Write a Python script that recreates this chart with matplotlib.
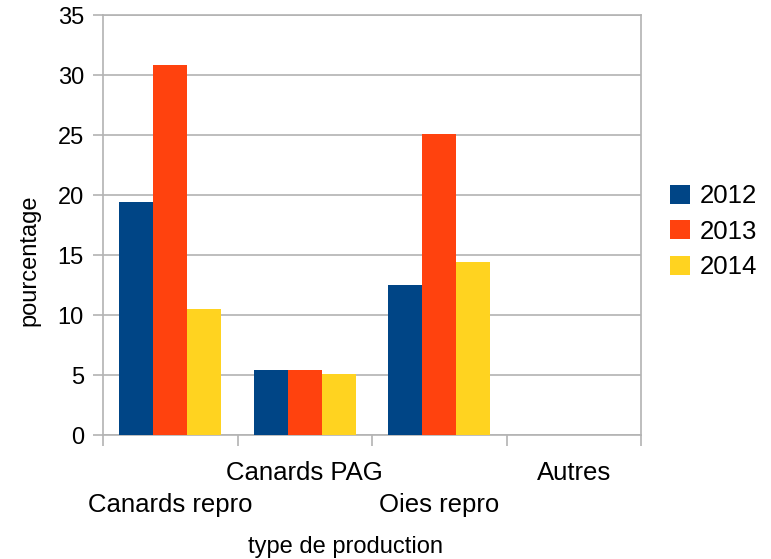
import numpy as np
import matplotlib
matplotlib.use("Agg")
import matplotlib.pyplot as plt

plt.rcParams.update({
    "font.family": ["Liberation Sans", "DejaVu Sans"],
    "figure.facecolor": "white",
    "axes.facecolor": "white",
})

categories = ["Canards repro", "Canards PAG", "Oies repro", "Autres"]
years = ["2012", "2013", "2014"]
v2012 = [19.4, 5.4, 12.5, 0]
v2013 = [30.8, 5.4, 25.1, 0]
v2014 = [10.5, 5.1, 14.4, 0]
colors = ["#004586", "#ff420e", "#ffd320"]
grid_col = "#b3b3b3"

fig = plt.figure(figsize=(7.71, 5.59), dpi=100)
W, H = 771, 559
ax = fig.add_axes([103 / W, (H - 435) / H, (641 - 103) / W, (435 - 15) / H])

x = np.arange(len(categories))
bw = 0.253
for i, (vals, lab) in enumerate(zip([v2012, v2013, v2014], years)):
    ax.bar(x + (i - 1) * bw, vals, bw, color=colors[i], label=lab, zorder=3)

ax.set_xlim(-0.5, len(categories) - 0.5)
ax.set_ylim(0, 35)
ax.set_yticks(np.arange(0, 36, 5))
ax.yaxis.grid(True, color=grid_col, linewidth=1.2, zorder=0)
ax.set_axisbelow(True)

for sp in ax.spines.values():
    sp.set_color(grid_col)
    sp.set_linewidth(1.2)

ax.tick_params(axis="y", length=7.2, width=1.2, color=grid_col, pad=6.5,
               labelsize=17, labelcolor="black")

# category labels, staggered on two rows
ax.set_xticks(x)
ax.set_xticklabels(categories)
ax.tick_params(axis="x", which="major", length=0, pad=19, labelsize=18.5,
               labelcolor="black")
ax.set_xticks(np.arange(-0.5, len(categories)), minor=True)
ax.tick_params(axis="x", which="minor", length=8, width=1.2, color=grid_col)
for i, t in enumerate(ax.xaxis.get_major_ticks()):
    if i % 2 == 0:
        t.set_pad(42)

ax.set_ylabel("pourcentage", fontsize=17)
ax.yaxis.set_label_coords(-0.1375, 0.4167)
ax.yaxis.label.set_va("center")
ax.set_xlabel("type de production", fontsize=17)
ax.xaxis.set_label_coords(0.4507, -0.2667)
ax.xaxis.label.set_va("center")

ax.legend(loc="center left", bbox_to_anchor=(670 / W, (H - 231.7) / H),
          bbox_transform=fig.transFigure, frameon=False, fontsize=18.5,
          handlelength=0.78, handleheight=0.78, handletextpad=0.36,
          labelspacing=0.45, borderpad=0, borderaxespad=0)

fig.savefig("out.png", dpi=100)
